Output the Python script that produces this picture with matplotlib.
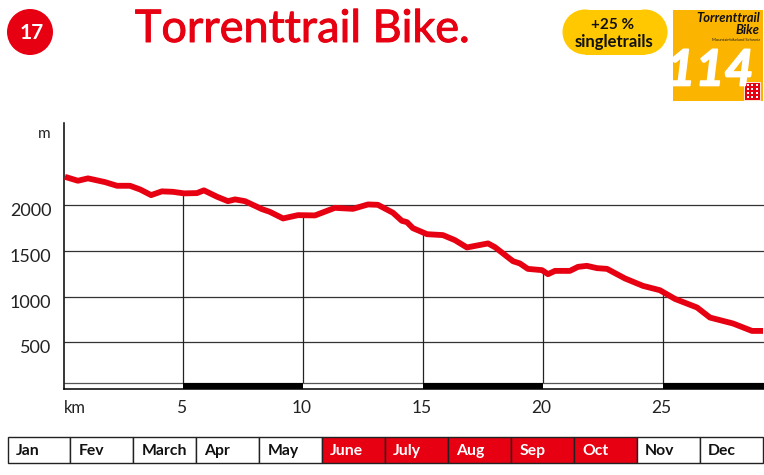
import numpy as np
import matplotlib
matplotlib.use("Agg")
import matplotlib.pyplot as plt
import matplotlib.patheffects as pe
from matplotlib.patches import Circle, Rectangle

plt.rcParams["font.family"] = ["Lato", "DejaVu Sans"]

RED = "#E60012"
YELLOW = "#FFC800"
ORANGE = "#FBB400"

km = [0.06, 0.6, 1.02, 1.73, 2.23, 2.77, 3.19, 3.65, 4.1, 4.56, 5.02, 5.56, 5.85, 6.4, 6.85,
      7.15, 7.56, 8.27, 8.6, 9.15, 9.77, 10.48, 11.31, 12.06, 12.69, 13.1, 13.73, 14.1, 14.31,
      14.56, 15.15, 15.81, 16.31, 16.81, 17.69, 17.98, 18.73, 19.02, 19.35, 19.94, 20.19, 20.48,
      21.1, 21.44, 21.81, 22.23, 22.65, 23.4, 24.15, 24.85, 25.48, 26.4, 26.94, 27.9, 28.69, 29.15]
alt = [2308, 2265, 2291, 2250, 2210, 2210, 2170, 2108, 2149, 2144, 2127, 2130, 2160, 2090, 2042,
       2061, 2042, 1955, 1925, 1853, 1889, 1886, 1969, 1958, 2006, 2002, 1915, 1827, 1813,
       1747, 1681, 1671, 1616, 1536, 1580, 1539, 1386, 1361, 1302, 1288, 1244, 1280,
       1280, 1324, 1335, 1310, 1302, 1197, 1116, 1069, 974, 880, 770, 705, 624, 624]
y_ticks = [500, 1000, 1500, 2000]
x_ticks = [5, 10, 15, 20, 25]
strip_edges = [0, 5, 10, 15, 20, 25, 29.17]
months = ["Jan", "Fev", "March", "Apr", "May", "June", "July", "Aug", "Sep", "Oct", "Nov", "Dec"]
season = ["June", "July", "Aug", "Sep", "Oct"]

W, H = 764, 475
fig = plt.figure(figsize=(W / 100, H / 100), dpi=100)

# overlay in pixel coordinates for header and month row
bg = fig.add_axes([0, 0, 1, 1])
bg.set_xlim(0, W)
bg.set_ylim(H, 0)
bg.axis("off")

bg.add_patch(Circle((30, 32), 23, color=RED, lw=0))
bg.text(32, 33, "17", color="white", fontsize=15, fontweight="bold", ha="center", va="center")
bg.text(302, 42, "Torrenttrail Bike.", color=RED, fontsize=32.4, ha="center", va="baseline",
        path_effects=[pe.withStroke(linewidth=0.7, foreground=RED)])

# pill
bg.add_patch(Rectangle((585, 9.5), 60, 45, fc=YELLOW, ec="none"))
bg.add_patch(Circle((585, 32), 22.5, fc=YELLOW, ec="none"))
bg.add_patch(Circle((645, 32), 22.5, fc=YELLOW, ec="none"))
bg.text(613, 25, "+25 %", fontsize=11, fontweight="bold", ha="center", va="center", color="#111111")
bg.text(614, 42, "singletrails", fontsize=12, fontweight="bold", ha="center", va="center", color="#111111")

# route sign
bg.add_patch(Rectangle((673, 9.5), 90, 91, fc=ORANGE, ec="none"))
bg.text(760, 17.5, "Torrenttrail", fontsize=9.4, fontweight="bold", style="italic", ha="right", va="center", color="#111111")
bg.text(760, 30, "Bike", fontsize=9.4, fontweight="bold", style="italic", ha="right", va="center", color="#111111")
bg.text(760, 40, "Mountainbikeland Schweiz", fontsize=3, ha="right", va="center", color="#222222")
bg.text(710, 71, "114", fontsize=36, fontweight="bold", style="italic", ha="center", va="center", color="white",
        path_effects=[pe.withStroke(linewidth=1.2, foreground="white")])
bg.add_patch(Rectangle((744, 82), 16, 18, fc=RED, ec="white", lw=0.6))
for cx in (747.5, 752, 756.5):
    for cy in (85, 89, 93, 97):
        bg.add_patch(Rectangle((cx - 1, cy - 1), 2, 2, fc="white", ec="none"))

# month row
left, cell = 7.5, 62.95
for i, m in enumerate(months):
    on = m in season
    bg.add_patch(Rectangle((left + i * cell, 436.5), cell, 26.5, fc=RED if on else "white", ec="#222222", lw=1))
    bg.text(left + i * cell + 8, 451, m, fontsize=11.3, fontweight="bold", ha="left", va="center",
            color="white" if on else "#111111")

# profile
ax = fig.add_axes([63.5 / W, 1 - 389.3 / H, 700 / W, 266.3 / H])
ax.set_xlim(0, 29.17)
ax.set_ylim(-14, 2896)
ax.patch.set_alpha(0)
for s in ("top", "right"):
    ax.spines[s].set_visible(False)
for s in ("left", "bottom"):
    ax.spines[s].set_linewidth(1.1)
ax.set_xticks([])
ax.set_yticks([])

ax.hlines(y_ticks, 0, 29.17, color="#333333", lw=0.9, zorder=1)
ax.vlines(x_ticks, 51, np.interp(x_ticks, km, alt), color="#222222", lw=0.9, zorder=1)
ax.hlines(51, 0, 29.17, color="#555555", lw=0.9, zorder=1)
for i in range(len(strip_edges) - 1):
    if i % 2 == 1:
        ax.fill_between(strip_edges[i:i + 2], -14, 51, color="black", lw=0, zorder=2)
ax.plot(km, alt, color=RED, lw=4.2, solid_joinstyle="round", solid_capstyle="butt", zorder=3, clip_on=False)

for v in y_ticks:
    ax.annotate(str(v), (0, v), xytext=(-12, -6), textcoords="offset pixels", ha="right", va="center",
                fontsize=13, color="#222222", annotation_clip=False)
ax.annotate("m", (0, 2000), xytext=(-13, 71), textcoords="offset pixels", ha="right", va="center",
            fontsize=11, color="#222222", annotation_clip=False)
for v in x_ticks:
    ax.annotate(str(v), (v, 0), xytext=(-2, -20), textcoords="offset pixels", ha="center", va="center",
                fontsize=12.5, color="#222222", annotation_clip=False)
ax.annotate("km", (0, 0), xytext=(0, -20), textcoords="offset pixels", ha="left", va="center",
            fontsize=12, color="#222222", annotation_clip=False)

plt.savefig("out.png", dpi=100)
